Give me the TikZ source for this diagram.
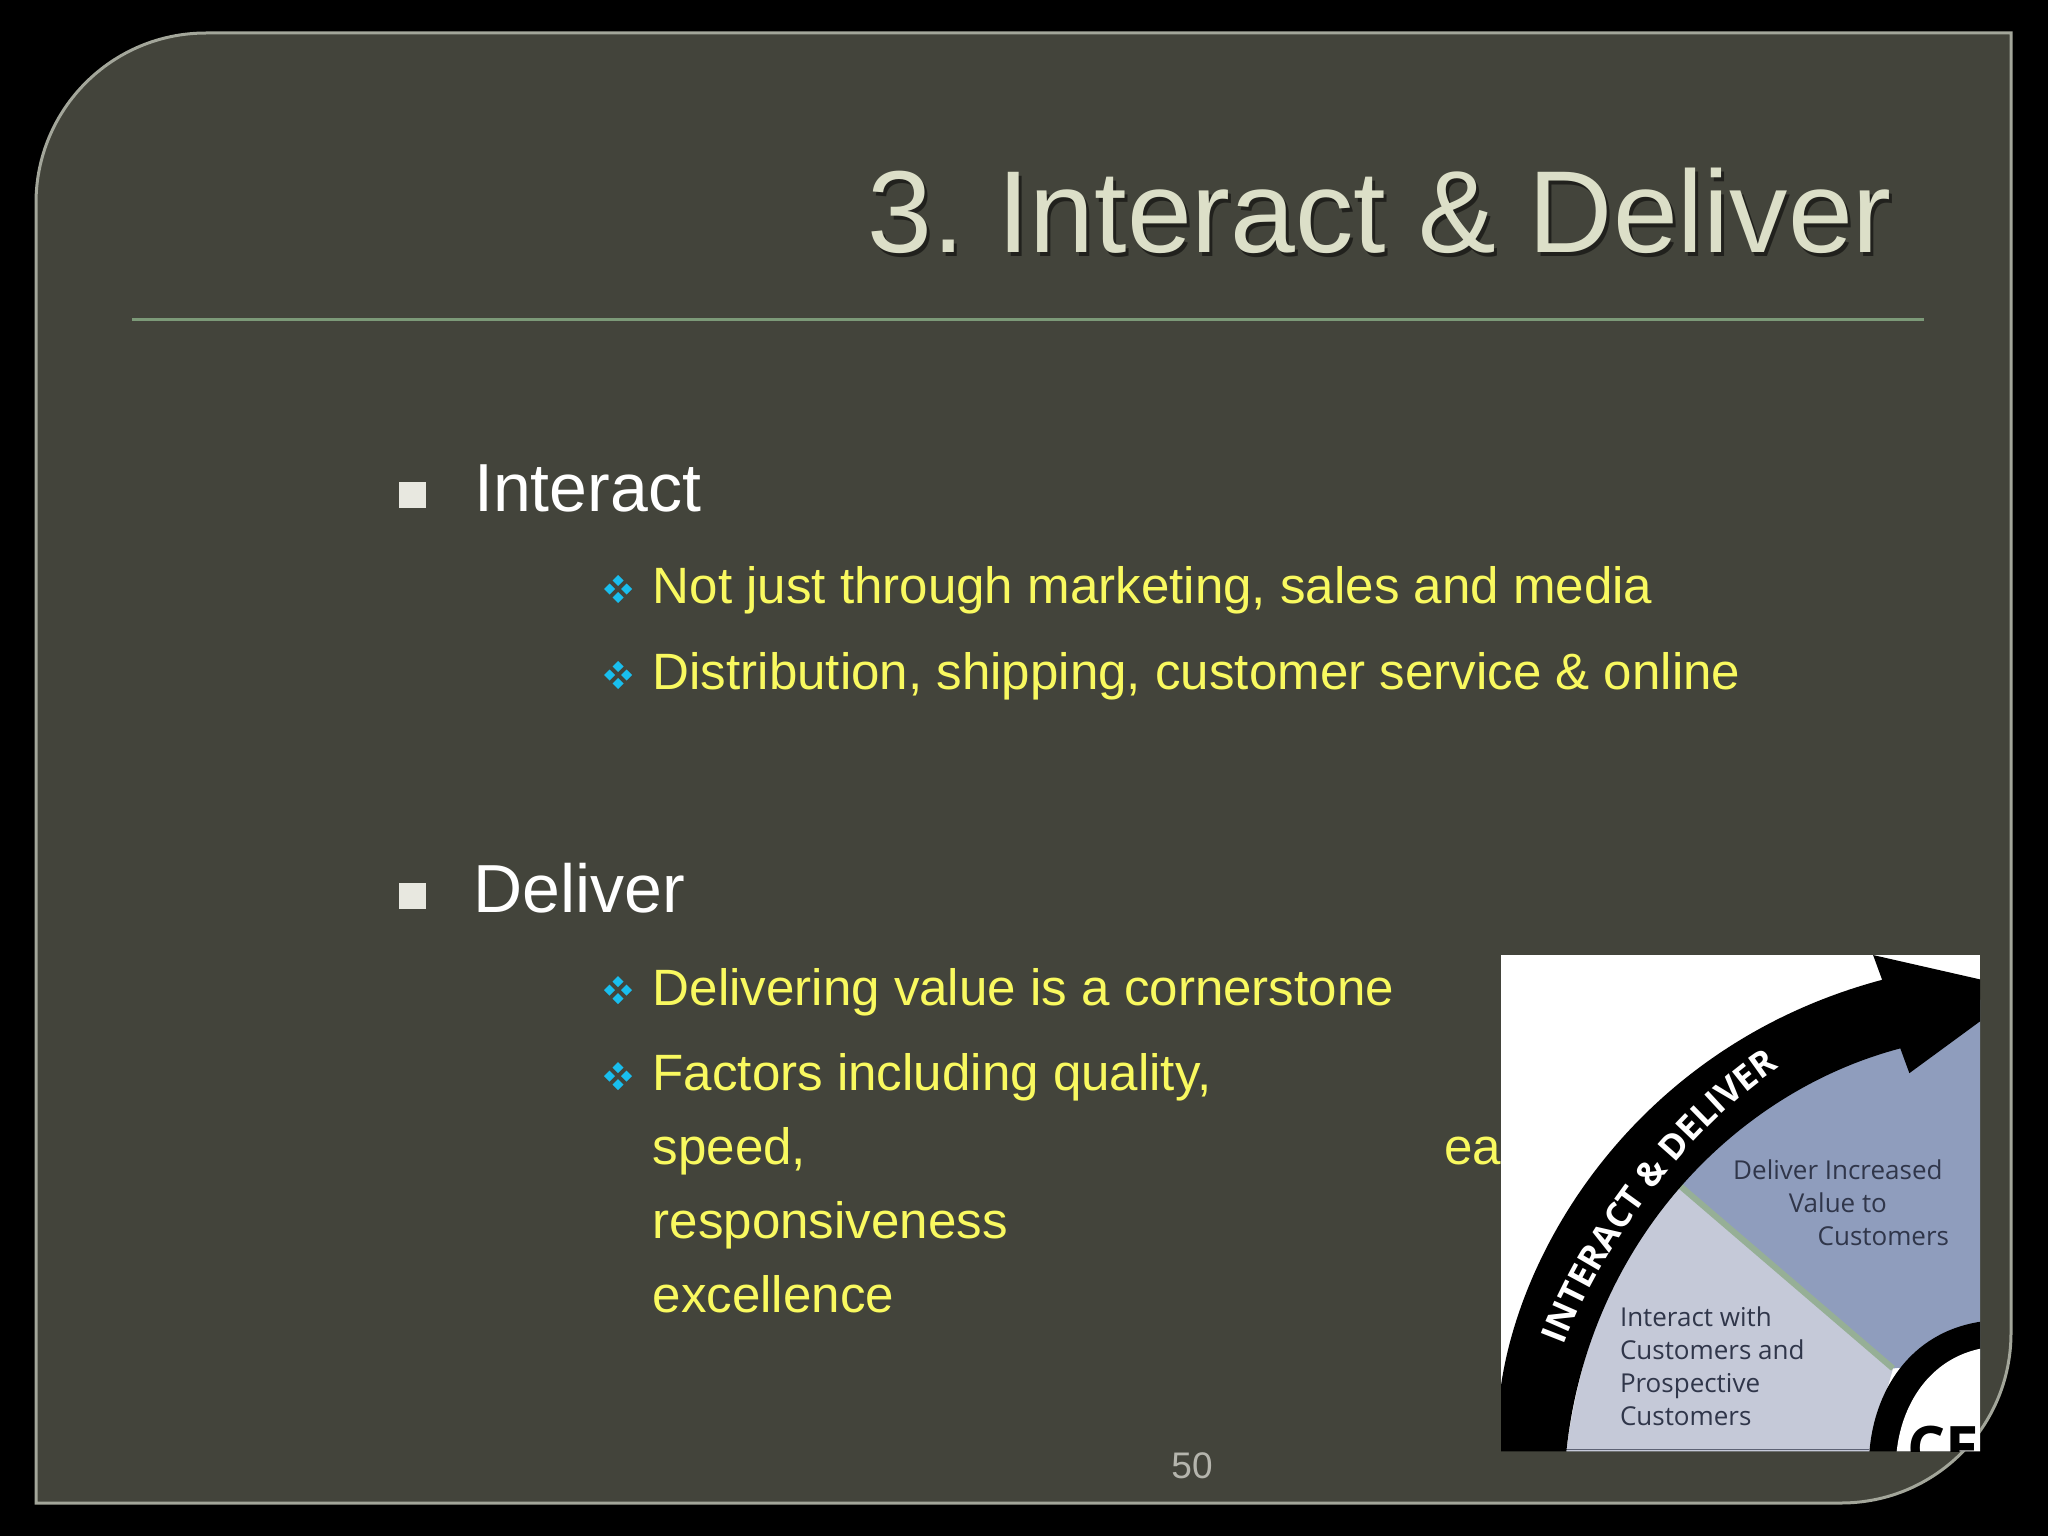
\documentclass[tikz,border=0pt]{standalone}
\usepackage{fontspec}
\setmainfont{Liberation Sans}
\newfontfamily\imgfont{Open Sans}
\usetikzlibrary{decorations.text}
\definecolor{slide}{HTML}{43443B}
\definecolor{framec}{HTML}{A3A69A}
\definecolor{rulec}{HTML}{7C9A78}
\definecolor{titlec}{HTML}{DCDFC8}
\definecolor{yell}{HTML}{F9F95F}
\definecolor{cyanb}{HTML}{19BEEE}
\definecolor{sqb}{HTML}{E8E8E0}
\definecolor{lightw}{HTML}{C5C9D8}
\definecolor{bluew}{HTML}{8F9DBD}
\definecolor{labelc}{HTML}{30364A}
\definecolor{numc}{HTML}{B5B5AD}
\definecolor{divc}{HTML}{96AF96}
\frenchspacing
\tikzset{
  headtext/.style={anchor=base west,inner sep=0pt,text=white,font=\fontsize{68}{68}\selectfont},
  subtext/.style={anchor=base west,inner sep=0pt,text=yell,font=\fontsize{51.1}{51.1}\selectfont},
  titletext/.style={anchor=base east,inner sep=0pt,font=\fontsize{116.6}{116.6}\selectfont},
  sq/.style={fill=sqb,draw=none},
  dia/.style={fill=cyanb,draw=none},
  wl/.style={inner sep=0pt,text=labelc,font=\imgfont\fontsize{26}{33}\selectfont,align=left},
  pics/clover/.style={code={
    \foreach \dx/\dy in {0/-8.5,8.5/0,0/8.5,-8.5/0}{
      \fill[dia] (\dx-5.5,\dy) -- (\dx,\dy-5.5) -- (\dx+5.5,\dy) -- (\dx,\dy+5.5) -- cycle;}
  }}
}
\begin{document}
\begin{tikzpicture}[x=1pt,y=-1pt]
\useasboundingbox (0,0) rectangle (2048,1536);
\fill[black] (0,0) rectangle (2048,1536);
% slide panel
\draw[framec,line width=3pt,fill=slide]
  (206,33) -- (2011,33) -- (2011,1333)
  .. controls (2011,1427) and (1935,1503) .. (1841,1503)
  -- (36,1503) -- (36,203)
  .. controls (36,109) and (112,33) .. (206,33) -- cycle;
% title
\node[titletext,text=black,opacity=.5] at (1895,256) {3. Interact \& Deliver};
\node (title) [titletext,text=titlec] at (1892,252) {3. Interact \& Deliver};
\draw[rulec,line width=3pt] (132,319) -- (1924,319);
% first block
\fill[sq] (399,482) rectangle (426,508);
\node (h1) [headtext] at (474,511) {Interact};
\pic at (618,589) {clover};
\node (s1) [subtext] at (652.5,603) {Not just through marketing, sales and media};
\pic at (618,675) {clover};
\node (s2) [subtext] at (652.5,689) {Distribution, shipping, customer service \& online};
% second block
\fill[sq] (399,883) rectangle (426,909);
\node (h2) [headtext] at (473,912) {Deliver};
\pic at (618,990) {clover};
\node (s3) [subtext] at (652.5,1005) {Delivering value is a cornerstone};
\pic at (618,1076) {clover};
\node (s4) [subtext] at (652.5,1090) {Factors including quality,};
\node (s5) [subtext] at (652.5,1164) {speed,};
\node (s6) [subtext] at (1444,1164) {ea};
\node (s7) [subtext] at (652.5,1238) {responsiveness};
\node (s8) [subtext] at (652.5,1312) {excellence};
\node (num) [anchor=base,inner sep=0pt,text=numc,font=\fontsize{37}{37}\selectfont] at (1192,1478) {50};
% inset picture
\begin{scope}
\clip (1501,955) rectangle (1980,1451);
\fill[white] (1501,955) rectangle (1980,1451);
\begin{scope}[shift={(1479.2,939.8)},x=.363pt,y=-.381pt]
 % wedges
 \fill[lightw] (240,1343) .. controls (280,1050) and (390,800) .. (540,630) -- (1140,1125) -- (1075,1343) -- cycle;
 \fill[bluew] (540,630) .. controls (800,400) and (1100,260) .. (1400,150) -- (1400,1100) -- (1140,1125) -- cycle;
 \draw[line width=6pt,divc] (540,635) -- (1140,1125);
 \draw[line width=1.2pt,color=labelc!70!lightw] (240,1337) -- (1075,1337);
 % central disc
 \fill[black] (1075,1343) .. controls (1090,1170) and (1200,1020) .. (1400,1000) -- (1400,1343) -- cycle;
 \fill[white] (1150,1343) .. controls (1165,1210) and (1250,1090) .. (1400,1070) -- (1400,1343) -- cycle;
 % arrow
 \fill[black] (60,1170) .. controls (120,780) and (460,270) .. (1110,105)
   -- (1085,40) -- (1500,130) -- (1185,350) -- (1160,285)
   .. controls (700,400) and (300,800) .. (240,1343) -- (60,1343) -- cycle;
 \path[decorate,decoration={text along path,text align=center,
    text={|\imgfont\bfseries\fontsize{35}{35}\selectfont\color{white}|INTERACT {\&} DELIVER}}]
   (220,1100) .. controls (320,820) and (580,480) .. (860,315);
 \node (w1) [wl,align=center] at (988,690) {Deliver Increased\\Value to\\\hspace*{3.5em}Customers};
 \node (w2) [wl] at (642,1120) {Interact with\\Customers and\\Prospective\\Customers};
 \node (w3) [anchor=base west,inner sep=0pt,text=black,font=\imgfont\bfseries\fontsize{60}{60}\selectfont] at (1180,1390) {CE};
\end{scope}
\end{scope}
\end{tikzpicture}
\end{document}
